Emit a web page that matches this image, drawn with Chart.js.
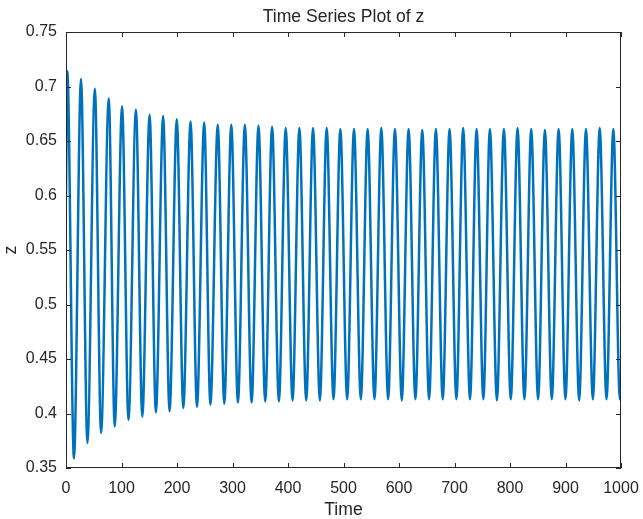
<!DOCTYPE html>
<html>
<head>
<meta charset="utf-8">
<script src="https://cdn.jsdelivr.net/npm/chart.js@4.4.1/dist/chart.umd.min.js"></script>
<style>
    html, body { margin: 0; padding: 0; background: #ffffff; }
    #wrap { width: 643px; height: 519px; }
</style>
</head>
<body>
<div id="wrap"><canvas id="zPlot"></canvas></div>
<script>
// values: start point, then peak / trough pairs, then end point
var time = [0,
    2.3, 14.4, 27.0, 38.6, 52.0, 63.2, 77.0, 87.8, 101.0, 112.6,
    126.0, 137.5, 150.6, 162.0, 175.0, 186.6, 199.6, 211.4, 224.4, 236.0,
    249.0, 260.2, 273.4, 285.2, 297.8, 309.8, 322.3, 334.4, 346.8, 359.0,
    371.3, 383.6, 395.9, 408.2, 420.5, 432.8, 445.1, 457.4, 469.7, 482.0,
    494.3, 506.6, 518.9, 531.2, 543.5, 555.8, 568.1, 580.4, 592.7, 605.0,
    617.3, 629.6, 641.9, 654.2, 666.5, 678.8, 691.1, 703.4, 715.6, 727.9,
    739.8, 752.0, 763.8, 776.4, 789.0, 801.4, 813.6, 826.0, 838.2, 850.6,
    862.9, 875.3, 887.6, 899.9, 912.2, 924.6, 936.9, 949.3, 961.6, 973.9,
    986.2, 998.0,
    1000];
var z = [0.600,
    0.714, 0.359, 0.707, 0.373, 0.698, 0.382, 0.689, 0.388, 0.682, 0.394,
    0.679, 0.397, 0.674, 0.401, 0.673, 0.402, 0.670, 0.405, 0.668, 0.406,
    0.667, 0.408, 0.665, 0.409, 0.665, 0.410, 0.665, 0.410, 0.664, 0.411,
    0.663, 0.411, 0.662, 0.412, 0.662, 0.412, 0.662, 0.412, 0.662, 0.413,
    0.661, 0.413, 0.661, 0.413, 0.661, 0.413, 0.662, 0.413, 0.661, 0.412,
    0.661, 0.413, 0.660, 0.413, 0.661, 0.413, 0.661, 0.413, 0.662, 0.413,
    0.661, 0.413, 0.661, 0.412, 0.661, 0.413, 0.662, 0.413, 0.661, 0.413,
    0.660, 0.413, 0.661, 0.413, 0.661, 0.412, 0.661, 0.413, 0.662, 0.413,
    0.661, 0.413,
    0.432];

var xTicks = [0, 100, 200, 300, 400, 500, 600, 700, 800, 900, 1000];
var yTicks = [0.35, 0.4, 0.45, 0.5, 0.55, 0.6, 0.65, 0.7, 0.75];
var yTickLabels = ["0.35", "0.4", "0.45", "0.5", "0.55", "0.6", "0.65", "0.7", "0.75"];

var axisColor = "#262626";
var fontFamily = "'Liberation Sans', Arial, Helvetica, sans-serif";

var points = [];
for (var i = 0; i < time.length; i++) {
    points.push({x: time[i], y: z[i]});
}

// matlab style box with inward ticks on all four sides
var boxTicks = {
    id: "boxTicks",
    afterDraw: function (chart) {
        var ctx = chart.ctx;
        var a = chart.chartArea;
        var sx = chart.scales.x, sy = chart.scales.y;
        var len = 5;
        ctx.save();
        ctx.strokeStyle = axisColor;
        ctx.lineWidth = 1;
        ctx.beginPath();
        xTicks.forEach(function (v) {
            var px = Math.round(sx.getPixelForValue(v)) + 0.5;
            ctx.moveTo(px, a.bottom);
            ctx.lineTo(px, a.bottom - len);
            ctx.moveTo(px, a.top);
            ctx.lineTo(px, a.top + len);
        });
        yTicks.forEach(function (v) {
            var py = Math.round(sy.getPixelForValue(v)) + 0.5;
            ctx.moveTo(a.left, py);
            ctx.lineTo(a.left + len, py);
            ctx.moveTo(a.right, py);
            ctx.lineTo(a.right - len, py);
        });
        ctx.stroke();
        ctx.strokeRect(a.left + 0.5, a.top + 0.5, a.right - a.left - 1, a.bottom - a.top - 1);
        ctx.restore();
    }
};

new Chart(document.getElementById("zPlot"), {
    type: "line",
    data: {
        datasets: [{
            label: "z",
            data: points,
            borderColor: "#0072BD",
            borderWidth: 2.5,
            pointRadius: 0,
            fill: false,
            cubicInterpolationMode: "monotone"
        }]
    },
    options: {
        responsive: true,
        maintainAspectRatio: false,
        animation: false,
        layout: {padding: {left: 0, right: 22, top: 0, bottom: 0}},
        plugins: {
            legend: {display: false},
            tooltip: {enabled: false},
            title: {
                display: true,
                fullSize: false,
                text: "Time Series Plot of z",
                color: axisColor,
                font: {family: fontFamily, size: 17.6, weight: "normal"},
                padding: {top: 7, bottom: 3.9}
            }
        },
        scales: {
            x: {
                type: "linear",
                min: 0,
                max: 1000,
                afterBuildTicks: function (scale) {
                    scale.ticks = xTicks.map(function (v) { return {value: v}; });
                },
                afterFit: function (scale) {
                    scale.height = 51;
                    scale.paddingLeft = 0;
                    scale.paddingRight = 0;
                },
                grid: {display: false, drawTicks: false},
                border: {display: false},
                ticks: {
                    color: axisColor,
                    font: {family: fontFamily, size: 16},
                    padding: 11,
                    maxRotation: 0,
                    autoSkip: false,
                    callback: function (v) { return String(v); }
                },
                title: {
                    display: true,
                    text: "Time",
                    color: axisColor,
                    font: {family: fontFamily, size: 17.6},
                    padding: {top: 0, bottom: -2}
                }
            },
            y: {
                type: "linear",
                min: 0.35,
                max: 0.75,
                afterBuildTicks: function (scale) {
                    scale.ticks = yTicks.map(function (v) { return {value: v}; });
                },
                afterFit: function (scale) {
                    scale.width = 66;
                    scale.paddingTop = 0;
                    scale.paddingBottom = 0;
                },
                grid: {display: false, drawTicks: false},
                border: {display: false},
                ticks: {
                    color: axisColor,
                    font: {family: fontFamily, size: 16},
                    padding: 9,
                    autoSkip: false,
                    callback: function (v, idx) { return yTickLabels[idx]; }
                },
                title: {
                    display: true,
                    text: "z",
                    color: axisColor,
                    font: {family: fontFamily, size: 17.6},
                    padding: {top: 1, bottom: 0}
                }
            }
        }
    },
    plugins: [boxTicks]
});
</script>
</body>
</html>
